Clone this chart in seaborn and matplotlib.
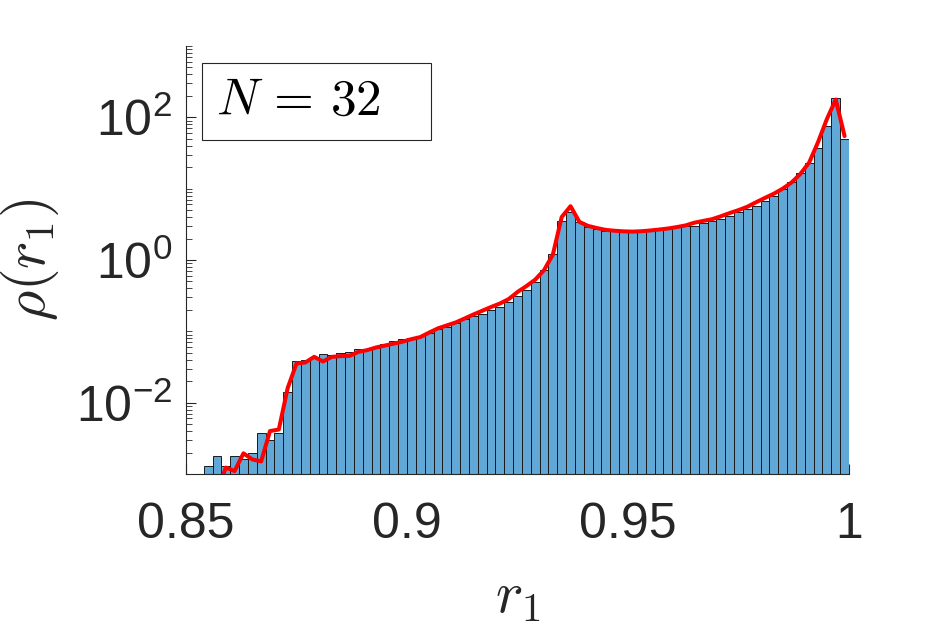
import numpy as np
import pandas as pd
import seaborn as sns
import matplotlib
matplotlib.use("Agg")
import matplotlib.pyplot as plt
from matplotlib.ticker import FixedLocator, LogLocator, LogFormatterSciNotation, NullFormatter
from matplotlib.patches import Rectangle

# histogram bins: width 0.002 from 0.854 to 1.0
bin_edges = np.round(np.arange(0.854, 1.0001, 0.002), 4)
bin_centers = (bin_edges[:-1] + bin_edges[1:]) / 2

# bar heights (density)
hist_density = [
    0.0013, 0.0018, 0.0013, 0.0018, 0.0016, 0.0020, 0.0037, 0.0030, 0.0037, 0.0141,
    0.0378, 0.0398, 0.043, 0.0479, 0.0463, 0.0489, 0.0505, 0.057, 0.055, 0.0593,
    0.066, 0.0728, 0.0769, 0.081, 0.0848, 0.094, 0.107, 0.116, 0.129, 0.148,
    0.162, 0.176, 0.196, 0.221, 0.26, 0.315, 0.38, 0.485, 0.72, 1.2,
    3.56, 4.67, 3.38, 2.94, 2.72, 2.58, 2.53, 2.50, 2.50, 2.53,
    2.58, 2.67, 2.79, 2.94, 3.0, 3.03, 3.3, 3.53, 3.77, 4.19,
    4.67, 5.2, 5.8, 6.7, 8.0, 9.9, 12.3, 16.5, 23, 37,
    74.6, 187, 49,
]

# red curve, evaluated at bin centers from the second bin on
curve_density = [
    0.00053, 0.00123, 0.0011, 0.00195, 0.0016, 0.0015, 0.0040, 0.0042, 0.016,
    0.0354, 0.0366, 0.0439, 0.0378, 0.0439, 0.0449, 0.0453, 0.0515, 0.0545, 0.0594,
    0.0632, 0.0672, 0.0716, 0.0777, 0.083, 0.096, 0.11, 0.121, 0.133, 0.151,
    0.172, 0.194, 0.219, 0.245, 0.283, 0.356, 0.43, 0.53, 0.72, 1.19,
    4.0, 5.68, 3.42, 3.0, 2.8, 2.64, 2.57, 2.52, 2.50, 2.53,
    2.59, 2.67, 2.76, 2.89, 3.05, 3.33, 3.53, 3.73, 4.1, 4.55,
    5.0, 5.58, 6.46, 7.43, 8.5, 10.0, 12.2, 16.1, 23.3, 45,
    94.7, 178, 54.6,
]
curve_x = bin_centers[1:]

x_ticks = [0.85, 0.9, 0.95, 1.0]
x_tick_labels = ["0.85", "0.9", "0.95", "1"]
y_ticks = [1e-2, 1e0, 1e2]

hist_df = pd.DataFrame({"r1": bin_centers, "rho": hist_density})
curve_df = pd.DataFrame({"r1": curve_x, "rho": curve_density})

sns.set_style("ticks")
plt.rcParams["font.family"] = ["Liberation Sans", "DejaVu Sans"]
plt.rcParams["mathtext.fontset"] = "cm"
plt.rcParams["axes.unicode_minus"] = False

txt_col = "#262626"

fig = plt.figure(figsize=(9.38, 6.25), dpi=100)
ax = fig.add_axes([186 / 938, 151 / 625, 663 / 938, 428 / 625])

sns.histplot(data=hist_df, x="r1", weights="rho", bins=list(bin_edges), stat="count",
             color="#62A8D6", alpha=1.0, edgecolor="#1a1a1a", linewidth=0.7, ax=ax)
sns.lineplot(data=curve_df, x="r1", y="rho", color="#FF0000", linewidth=2.9, ax=ax)

ax.set_yscale("log")
ax.set_xlim(0.85, 1.0)
ax.set_ylim(1e-3, 1e3)

ax.xaxis.set_major_locator(FixedLocator(x_ticks))
ax.set_xticklabels(x_tick_labels)
ax.yaxis.set_major_locator(FixedLocator(y_ticks))
ax.yaxis.set_major_formatter(LogFormatterSciNotation())
ax.yaxis.set_minor_locator(LogLocator(base=10, subs=np.arange(1, 10), numticks=20))
ax.yaxis.set_minor_formatter(NullFormatter())

ax.tick_params(axis="both", which="major", direction="in", length=7, width=0.8,
               labelsize=36, colors=txt_col)
ax.tick_params(axis="x", which="major", pad=20)
ax.tick_params(axis="y", which="major", pad=10)
ax.tick_params(axis="y", which="minor", direction="in", length=4, width=0.6, color=txt_col)

for side in ["top", "right"]:
    ax.spines[side].set_visible(False)
for side in ["left", "bottom"]:
    ax.spines[side].set_color(txt_col)
    ax.spines[side].set_linewidth(0.8)

ax.set_xlabel(r"$r_1$", fontsize=42, color=txt_col, labelpad=16, math_fontfamily="cm")
ax.set_ylabel(r"$\rho(r_1)$", fontsize=42, color=txt_col, labelpad=11, math_fontfamily="cm")

ax.add_patch(Rectangle((0.024, 0.780), 0.3455, 0.180, transform=ax.transAxes,
                       facecolor="white", edgecolor="#262626", linewidth=0.8, zorder=5))
ax.text(0.046, 0.870, r"$N\,=\,32$", transform=ax.transAxes, fontsize=37, color="black",
        ha="left", va="center", math_fontfamily="cm", zorder=6)

fig.savefig("out.png", dpi=100)
